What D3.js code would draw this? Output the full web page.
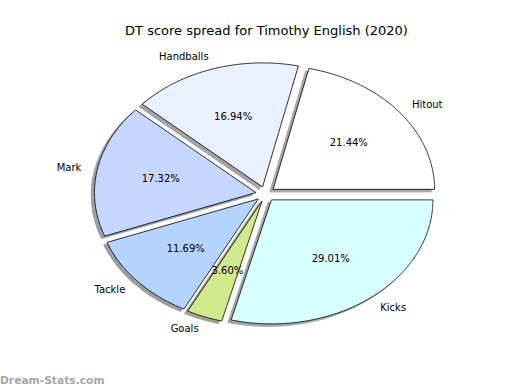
<!DOCTYPE html>
<html>
<head>
<meta charset="utf-8">
<script src="https://cdn.jsdelivr.net/npm/d3@7"></script>
<style>
  html, body { margin: 0; padding: 0; background: #ffffff; }
  svg { display: block; font-family: "DejaVu Sans", sans-serif; }
</style>
</head>
<body>
<svg id="chart" width="520" height="390"></svg>
<script>
// DT score breakdown by stat type
const categories = ["Hitout", "Handballs", "Mark", "Tackle", "Goals", "Kicks"];
const shares = [21.44, 16.94, 17.32, 11.69, 3.60, 29.01];
const colors = ["#ffffff", "#eaf0fe", "#c5d7fe", "#b4d4fe", "#d0ea8c", "#d8ffff"];
const explode = [0.06, 0.06, 0.06, 0.06, 0.06, 0.06];
const title = "DT score spread for Timothy English (2020)";

const W = 520, H = 390;
const cx = 265.5, cy = 194, rx = 161.5, ry = 124;
const svg = d3.select("#chart");

// data-space scales: unit circle stretched into the plot ellipse
const x = d3.scaleLinear().domain([-1.25, 1.25]).range([cx - 1.25 * rx, cx + 1.25 * rx]);
const y = d3.scaleLinear().domain([-1.25, 1.25]).range([cy + 1.25 * ry, cy - 1.25 * ry]);

const total = d3.sum(shares);
let acc = 0;
const wedges = shares.map((v, i) => {
  const t1 = acc / total * 2 * Math.PI;
  acc += v;
  const t2 = acc / total * 2 * Math.PI;
  const tm = (t1 + t2) / 2;
  const ox = explode[i] * Math.cos(tm), oy = explode[i] * Math.sin(tm);
  return { i, v, t1, t2, tm, ox, oy };
});

function wedgePath(w, dx, dy) {
  const pts = [[w.ox + dx, w.oy + dy]];
  const n = Math.max(8, Math.ceil((w.t2 - w.t1) / 0.01));
  for (let k = 0; k <= n; k++) {
    const t = w.t1 + (w.t2 - w.t1) * k / n;
    pts.push([w.ox + dx + Math.cos(t), w.oy + dy + Math.sin(t)]);
  }
  return d3.line().x(d => x(d[0])).y(d => y(d[1]))(pts) + "Z";
}

function shade(c) {
  const r = d3.rgb(c);
  return d3.rgb(r.r * 0.3, r.g * 0.3, r.b * 0.3);
}

// shadows below the wedges
svg.append("g").selectAll("path").data(wedges).join("path")
  .attr("d", w => wedgePath(w, -0.02, -0.02))
  .attr("fill", w => shade(colors[w.i]))
  .attr("stroke", w => shade(colors[w.i]))
  .attr("stroke-width", 1)
  .attr("opacity", 0.5);

// wedges
svg.append("g").selectAll("path").data(wedges).join("path")
  .attr("d", w => wedgePath(w, 0, 0))
  .attr("fill", w => colors[w.i])
  .attr("stroke", "#000")
  .attr("stroke-width", 0.8)
  .attr("stroke-linejoin", "miter");

// category labels
svg.append("g").selectAll("text").data(wedges).join("text")
  .attr("x", w => x(w.ox + 1.1 * Math.cos(w.tm)))
  .attr("y", w => y(w.oy + 1.1 * Math.sin(w.tm)))
  .attr("text-anchor", w => Math.cos(w.tm) > 0 ? "start" : "end")
  .attr("dominant-baseline", "central")
  .attr("font-size", 10)
  .attr("fill", "#000")
  .text(w => categories[w.i]);

// percentage labels
svg.append("g").selectAll("text").data(wedges).join("text")
  .attr("x", w => x(w.ox + 0.6 * Math.cos(w.tm)))
  .attr("y", w => y(w.oy + 0.6 * Math.sin(w.tm)))
  .attr("text-anchor", "middle")
  .attr("dominant-baseline", "central")
  .attr("font-size", 10)
  .attr("fill", "#000")
  .text(w => d3.format(".2f")(w.v) + "%");

// title
svg.append("text")
  .attr("x", 266.5).attr("y", 30)
  .attr("text-anchor", "middle")
  .attr("dominant-baseline", "central")
  .attr("font-size", 13)
  .text(title);

// site mark
svg.append("text")
  .attr("x", 0).attr("y", 384)
  .attr("font-size", 10.7)
  .attr("font-weight", "bold")
  .attr("fill", "#a6a6a6")
  .text("Dream-Stats.com");
</script>
</body>
</html>
